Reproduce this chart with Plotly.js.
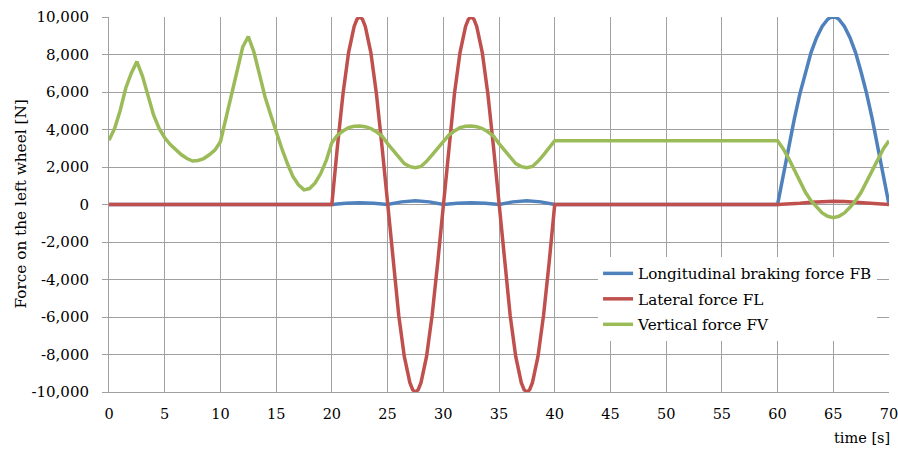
<!DOCTYPE html>
<html>
<head>
<meta charset="utf-8">
<script src="https://cdn.plot.ly/plotly-3.0.1.min.js"></script>
<style>html,body{margin:0;padding:0;background:#fff}#chart{width:898px;height:450px}</style>
</head>
<body>
<div id="chart"></div>
<script>
// ---- data ----
const seriesNames = ["Longitudinal braking force FB", "Lateral force FL", "Vertical force FV"];
const seriesColors = ["#4F81BD", "#C0504D", "#9BBB59"];

const xTickVals = [0, 5, 10, 15, 20, 25, 30, 35, 40, 45, 50, 55, 60, 65, 70];
const xTickText = ["0", "5", "10", "15", "20", "25", "30", "35", "40", "45", "50", "55", "60", "65", "70"];
const yTickVals = [-10000, -8000, -6000, -4000, -2000, 0, 2000, 4000, 6000, 8000, 10000];
const yTickText = ["-10,000", "-8,000", "-6,000", "-4,000", "-2,000", "0", "2,000", "4,000", "6,000", "8,000", "10,000"];

// Longitudinal braking force FB
const fbTime = [0, 20, 21.25, 22.5, 23.75, 25, 26.25, 27.5, 28.75, 30, 31.25, 32.5, 33.75, 35, 36.25, 37.5, 38.75, 40,
  60, 60.5, 61, 61.5, 62, 62.5, 63, 63.5, 64, 64.5, 64.75, 65, 65.25, 65.5, 66, 66.5, 67, 67.5, 68, 68.5, 69, 69.5, 70];
const fbValues = [0, 0, 70, 100, 70, 0, 140, 200, 140, 0, 70, 100, 70, 0, 140, 200, 140, 0,
  0, 1550, 3100, 4550, 5900, 7050, 8100, 8900, 9500, 9880, 9970, 10000, 9970, 9880, 9500, 8900, 8100, 7050, 5900, 4550, 3100, 1550, 0];

// Lateral force FL
const flTime = [0, 20, 20.5, 21, 21.5, 22, 22.25, 22.5, 22.75, 23, 23.5, 24, 24.5, 25, 25.5, 26, 26.5, 27, 27.25, 27.5, 27.75, 28, 28.5, 29, 29.5,
  30, 30.5, 31, 31.5, 32, 32.25, 32.5, 32.75, 33, 33.5, 34, 34.5, 35, 35.5, 36, 36.5, 37, 37.25, 37.5, 37.75, 38, 38.5, 39, 39.5, 40,
  60, 61, 62, 63, 64, 65, 66, 67, 68, 69, 70];
const flValues = [0, 0, 3100, 5900, 8100, 9500, 9880, 10000, 9880, 9500, 8100, 5900, 3100, 0, -3100, -5900, -8100, -9500, -9880, -10000, -9880, -9500, -8100, -5900, -3100,
  0, 3100, 5900, 8100, 9500, 9880, 10000, 9880, 9500, 8100, 5900, 3100, 0, -3100, -5900, -8100, -9500, -9880, -10000, -9880, -9500, -8100, -5900, -3100, 0,
  0, 20, 65, 120, 165, 180, 165, 120, 65, 20, 0];

// Vertical force FV
const fvTime = [0, 0.5, 1, 1.5, 2, 2.5, 3, 3.5, 4, 4.5, 5, 5.5, 6, 6.5, 7, 7.5, 8, 8.5, 9, 9.5,
  10, 10.5, 11, 11.5, 12, 12.5, 13, 13.5, 14, 14.5, 15, 15.5, 16, 16.5, 17, 17.5, 18, 18.5, 19, 19.5,
  20, 20.5, 21, 21.5, 22, 22.5, 23, 23.5, 24, 24.5, 25, 25.5, 26, 26.5, 27, 27.5, 28, 28.5, 29, 29.5,
  30, 30.5, 31, 31.5, 32, 32.5, 33, 33.5, 34, 34.5, 35, 35.5, 36, 36.5, 37, 37.5, 38, 38.5, 39, 39.5,
  40, 60, 60.5, 61, 61.5, 62, 62.5, 63, 63.5, 64, 64.5, 65, 65.5, 66, 66.5, 67, 67.5, 68, 68.5, 69, 69.5, 70];
const fvValues = [3430, 4050, 5000, 6200, 7000, 7620, 6850, 5870, 4780, 4060, 3560, 3200, 2920, 2650, 2450, 2320, 2350, 2450, 2650, 2900,
  3350, 4600, 5930, 7200, 8400, 8960, 8140, 6950, 5750, 4800, 3850, 3000, 2200, 1500, 1050, 780, 850, 1150, 1650, 2350,
  3300, 3700, 3920, 4100, 4170, 4190, 4150, 4050, 3880, 3650, 3250, 2880, 2500, 2180, 2020, 1960, 2030, 2300, 2650, 3000,
  3330, 3700, 3920, 4100, 4170, 4190, 4150, 4050, 3880, 3650, 3250, 2880, 2500, 2180, 2020, 1960, 2030, 2300, 2650, 3000,
  3400, 3400, 2980, 2450, 1850, 1220, 650, 200, -150, -450, -630, -710, -630, -450, -150, 200, 650, 1220, 1850, 2450, 2980, 3400];

// ---- chart ----
const FONT = 'DejaVu Serif, serif';
const GRID = '#a0a0a0';
const xs = [fbTime, flTime, fvTime];
const ys = [fbValues, flValues, fvValues];
const traces = seriesNames.map((name, i) => ({
  type: 'scatter', mode: 'lines', name: name, legendgroup: 'g' + i,
  x: xs[i], y: ys[i],
  line: {color: seriesColors[i], width: 3.5}
}));

const layout = {
  width: 898, height: 450,
  margin: {l: 109, r: 9, t: 17, b: 58},
  paper_bgcolor: '#fff', plot_bgcolor: '#fff',
  font: {family: FONT, size: 15, color: '#000'},
  showlegend: true,
  xaxis: {
    range: [0, 70], tickmode: 'array', tickvals: xTickVals, ticktext: xTickText,
    showgrid: true, gridcolor: GRID, gridwidth: 1,
    showline: true, linecolor: GRID, linewidth: 1, zeroline: false,
    ticks: '', ticklabelstandoff: 9, ticklabeloverflow: 'allow',
    tickfont: {family: FONT, size: 14.5, color: '#000'}
  },
  yaxis: {
    range: [-10000, 10000], tickmode: 'array', tickvals: yTickVals, ticktext: yTickText,
    showgrid: true, gridcolor: GRID, gridwidth: 1,
    showline: true, linecolor: GRID, linewidth: 1, zeroline: false,
    ticks: 'outside', ticklen: 6, tickcolor: GRID, tickwidth: 1,
    ticklabelstandoff: 10, tickfont: {family: FONT, size: 15, color: '#000'}
  },
  legend: {
    x: 0.627, y: 0.36, xanchor: 'left', yanchor: 'top', tracegroupgap: 2.7,
    bgcolor: '#fff', borderwidth: 0, font: {family: FONT, size: 15.2, color: '#000'}
  },
  annotations: [
    {text: 'Force on the left wheel [N]', textangle: -90, xref: 'paper', yref: 'paper',
     x: -0.114, y: 0.5, xanchor: 'center', yanchor: 'middle', showarrow: false,
     font: {family: FONT, size: 15.3, color: '#000'}},
    {text: 'time [s]', xref: 'paper', yref: 'paper', x: 1.004, y: -0.123,
     xanchor: 'right', yanchor: 'middle', showarrow: false,
     font: {family: FONT, size: 14.5, color: '#000'}}
  ]
};

Plotly.newPlot('chart', traces, layout, {displayModeBar: false, staticPlot: true});
</script>
</body>
</html>
